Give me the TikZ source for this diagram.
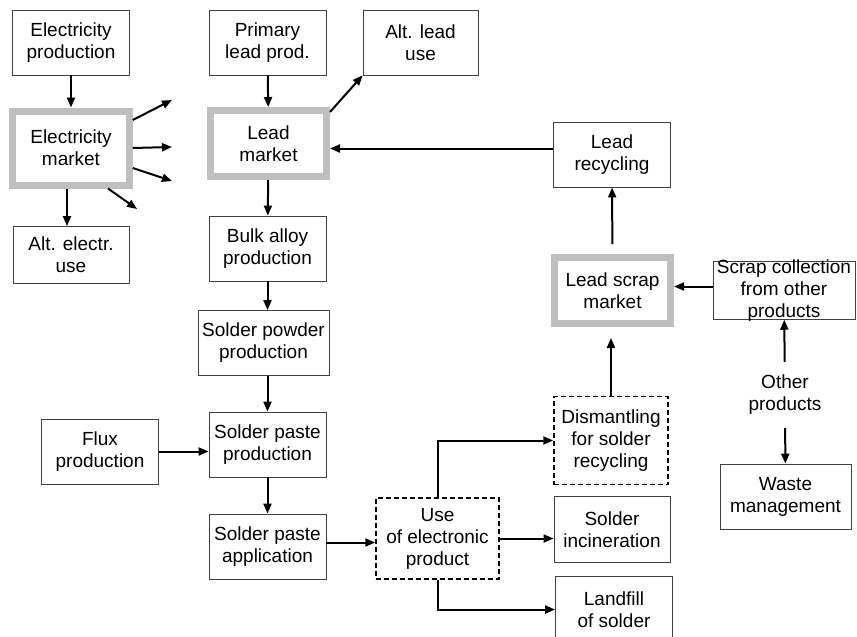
\documentclass[tikz,border=0pt]{standalone}
\usepackage{fontspec}
\setmainfont{Liberation Sans}
\usetikzlibrary{arrows.meta, positioning, calc}

\begin{document}
\begin{tikzpicture}[x=1pt, y=-1pt,
    every node/.style={font=\fontsize{19}{22}\selectfont, align=center},
    box/.style={rectangle, draw=black!75, line width=0.8pt, inner sep=0pt, minimum width=117pt, minimum height=65pt},
    market/.style={rectangle, draw=black!25, line width=7pt, inner sep=0pt, minimum width=116pt, minimum height=66pt},
    open/.style={rectangle, draw=black, line width=1.5pt, dash pattern=on 5pt off 3pt, inner sep=0pt},
    flow/.style={-{Triangle[length=10pt, width=8pt]}, line width=2pt}]
    \path[use as bounding box, clip] (0, 0) rectangle (857, 637);

    % electricity side
    \node[box] (elec_prod) at (71, 42.5) {Electricity\\production};
    \node[market, minimum width=116.5pt, minimum height=74pt] (elec_market) at (71, 148) {Electricity\\market};
    \node[box, minimum width=116pt, minimum height=57pt] (alt_elec) at (71, 255) {Alt. electr.\\use};
    \coordinate (el_out_a) at (172, 100);
    \coordinate (el_out_b) at (172, 147);
    \coordinate (el_out_c) at (172, 181);
    \coordinate (el_out_d) at (137, 209);

    % lead chain
    \node[box] (lead_prod) at (267.5, 42.5) {Primary\\lead prod.};
    \node[box, minimum width=115pt] (alt_lead) at (420.5, 42.5) {Alt. lead\\use};
    \node[market] (lead_market) at (268.5, 143.5) {Lead\\market};
    \node[box] (bulk) at (267.5, 248.5) {Bulk alloy\\production};
    \node[box, minimum width=131pt] (powder) at (263.5, 343) {Solder powder\\production};
    \node[box] (paste_prod) at (267.5, 444.5) {Solder paste\\production};
    \node[box] (flux) at ($(paste_prod)+(-167.5, 7)$) {Flux\\production};
    \node[box] (paste_app) at (267.5, 546.5) {Solder paste\\application};

    % use and end of life
    \node[open, minimum width=123pt, minimum height=81pt] (use) at (437.5, 538.5) {Use\\of electronic\\product};
    \node[open, minimum width=114pt, minimum height=88pt] (dismantle) at (611, 440.5) {Dismantling\\for solder\\recycling};
    \node[box, minimum width=116pt, minimum height=66pt] (incin) at (612, 529.5) {Solder\\incineration};
    \node[box, minimum height=66pt] (landfill) at (614, 609.5) {Landfill\\of solder};

    % recycling
    \node[box] (lead_recyc) at (612, 154.5) {Lead\\recycling};
    \node[market] (scrap_market) at (612.5, 290.5) {Lead scrap\\market};
    \node[box, minimum width=142pt, minimum height=57pt, inner ysep=-2pt] (scrap_coll) at (784, 290.5) {Scrap collection\\from other\\products};
    \node[inner sep=0pt] (other) at (785, 395) {Other\\products};
    \node[box, minimum width=131pt] (waste) at (785.5, 496.5) {Waste\\management};

    \draw[flow] (elec_prod) -- (elec_market);
    \draw[flow] ([xshift=-4pt]elec_market.south) -- ([xshift=-4pt]alt_elec.north);
    \draw[flow] ([yshift=28pt]elec_market.east) -- (el_out_a);
    \draw[flow] (elec_market.east) -- (el_out_b);
    \draw[flow] ([yshift=-20pt]elec_market.east) -- (el_out_c);
    \draw[flow] ([xshift=37pt]elec_market.south) -- (el_out_d);

    \draw[flow] (lead_prod) -- (lead_market);
    \draw[flow] ([yshift=-5pt]lead_market.north east) -- (alt_lead.south west);
    \draw[flow] (lead_market) -- (bulk);
    \draw[flow] (bulk.south) -- (bulk.south |- powder.north);
    \draw[flow] (paste_prod.north |- powder.south) -- (paste_prod.north);
    \draw[flow] (flux.east) -- (flux.east -| paste_prod.west);
    \draw[flow] (paste_prod) -- (paste_app);
    \draw[flow] ([yshift=4pt]paste_app.east) -- ([yshift=4pt]paste_app.east -| use.west);

    \draw[flow] (use.north) |- (dismantle.west);
    \draw[flow] (use.east) -- (use.east -| incin.west);
    \draw[flow] (use.south) |- (landfill.west);

    \draw[flow, shorten >=11pt] (dismantle.north) -- (dismantle.north |- scrap_market.south);
    \draw[flow, shorten <=10pt] (scrap_market) -- (lead_recyc);
    \draw[flow] ([yshift=6pt]lead_recyc.west) -- ([yshift=6pt]lead_recyc.west -| lead_market.east);
    \draw[flow] ([yshift=4pt]scrap_coll.west) -- ([yshift=4pt]scrap_coll.west -| scrap_market.east);
    \draw[flow, shorten <=13pt] (other) -- (scrap_coll);
    \draw[flow, shorten <=13pt] (other) -- (waste);
\end{tikzpicture}
\end{document}
